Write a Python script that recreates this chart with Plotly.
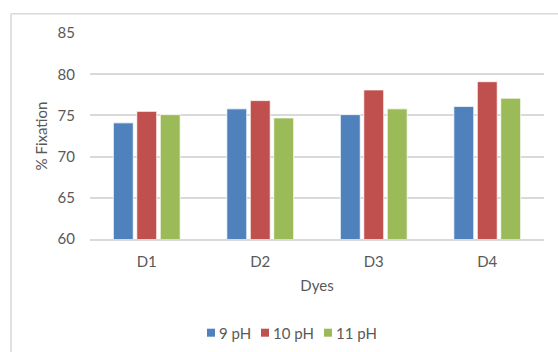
import plotly.graph_objects as go

# Fixation data per dye at three pH levels
dyes = ["D1", "D2", "D3", "D4"]
ph9 = [74.1, 75.8, 75.1, 76.1]
ph10 = [75.5, 76.8, 78.1, 79.1]
ph11 = [75.1, 74.7, 75.8, 77.1]
series_names = ["9 pH", "10 pH", "11 pH"]
series_colors = ["#4F81BD", "#C0504D", "#9BBB59"]
y_ticks = [60, 65, 70, 75, 80, 85]

W, H = 558, 352
L, R, T, B = 90, 14, 33.3, 112.7
pw, ph = W - L - R, H - T - B

font_family = "Lato, Open Sans, Liberation Sans, sans-serif"
text_color = "#595959"
grid_color = "#D9D9D9"
fsize = 15

fig = go.Figure()
for name, vals, col in zip(series_names, [ph9, ph10, ph11], series_colors):
    fig.add_trace(go.Bar(
        x=dyes, y=vals, name=name, showlegend=False,
        marker=dict(color=col, line=dict(color="white", width=0.8)),
    ))


def px_x(v):
    return (v - L) / pw


def px_y(v):
    return (H - B - v) / ph


# Chart-area frame: left and top edges
fig.add_shape(type="line", xref="paper", yref="paper",
              x0=px_x(11), x1=px_x(11), y0=px_y(14), y1=px_y(400),
              line=dict(color=grid_color, width=1.6))
fig.add_shape(type="line", xref="paper", yref="paper",
              x0=px_x(11), x1=px_x(620), y0=px_y(14), y1=px_y(14),
              line=dict(color=grid_color, width=1.6))

# Compact legend below the plot: colour square followed by the series name
legend_left = [207, 261, 324]
legend_cy = 333
for name, col, lx in zip(series_names, series_colors, legend_left):
    fig.add_shape(type="rect", xref="paper", yref="paper",
                  x0=px_x(lx), x1=px_x(lx + 8),
                  y0=px_y(legend_cy - 4), y1=px_y(legend_cy + 4),
                  fillcolor=col, line=dict(width=0))
    fig.add_annotation(text=name, xref="paper", yref="paper",
                       x=px_x(lx + 10), y=px_y(legend_cy),
                       xanchor="left", yanchor="middle", showarrow=False,
                       font=dict(family=font_family, size=fsize, color=text_color))

fig.update_layout(
    width=W, height=H,
    margin=dict(l=L, r=R, t=T, b=B, pad=0),
    paper_bgcolor="white", plot_bgcolor="white",
    font=dict(family=font_family, size=fsize, color=text_color),
    barmode="group", bargap=0.38, bargroupgap=0.15,
    showlegend=False,
    xaxis=dict(
        showline=True, linecolor=grid_color, linewidth=1.6,
        showgrid=False, ticks="", ticklabelstandoff=8,
        title=dict(text="Dyes", standoff=12, font=dict(size=fsize, color=text_color)),
    ),
    yaxis=dict(
        range=[60, 85.01], tickvals=y_ticks,
        showgrid=True, gridcolor=grid_color, gridwidth=1.6,
        showline=False, zeroline=False, ticks="", ticklabelstandoff=14,
        title=dict(text="% Fixation", standoff=6, font=dict(size=fsize, color=text_color)),
    ),
)

fig.write_html("out.html")
